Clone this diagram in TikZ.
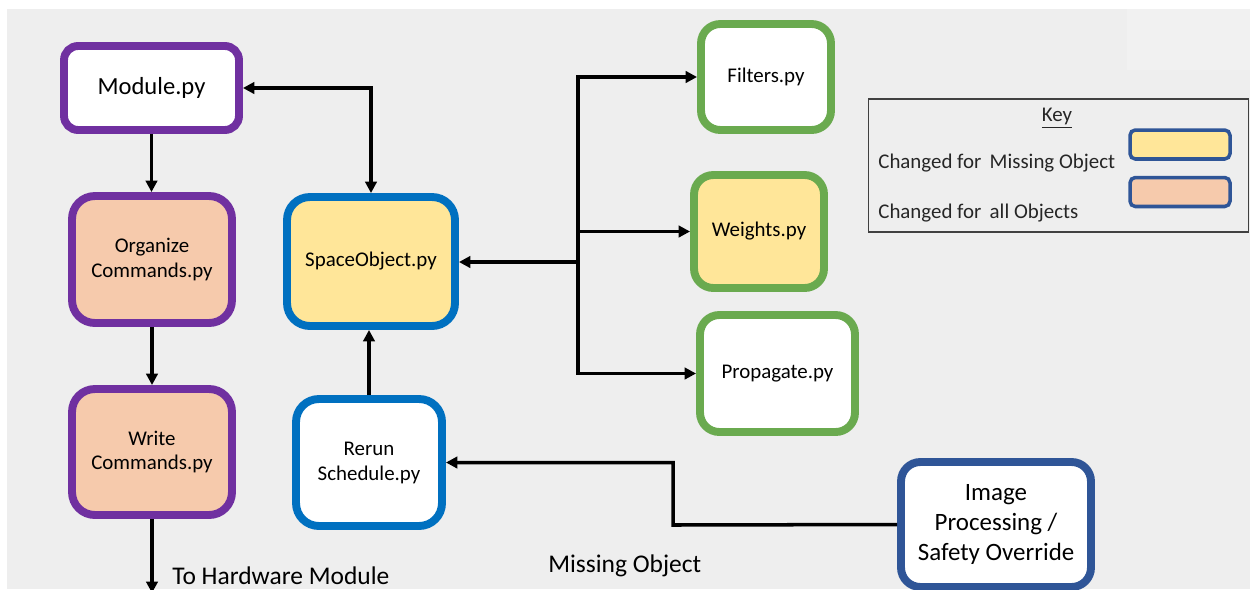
\documentclass[tikz,border=0pt]{standalone}
\usepackage{fontspec}
\setmainfont{Carlito}
\usetikzlibrary{arrows.meta}

\definecolor{pageGrey}{HTML}{EEEEEE}
\definecolor{pageLight}{HTML}{F1F1F1}
\definecolor{modPurple}{HTML}{7030A0}
\definecolor{objBlue}{HTML}{0070C0}
\definecolor{subGreen}{HTML}{6AAA4F}
\definecolor{extNavy}{HTML}{2F5597}
\definecolor{missYellow}{HTML}{FFE699}
\definecolor{allPeach}{HTML}{F6CAAC}

\begin{document}
\begin{tikzpicture}[x=0.02cm,y=-0.02cm,
  box/.style={rectangle, rounded corners=11pt, line width=4.5pt, align=center,
    inner sep=0pt, fill=white, text=black,
    font=\fontsize{11.9}{14.2}\selectfont},
  modbox/.style={box, draw=modPurple},
  objbox/.style={box, draw=objBlue},
  subbox/.style={box, draw=subGreen},
  extbox/.style={box, draw=extNavy},
  swatch/.style={rectangle, rounded corners=3pt, draw=extNavy, line width=2pt,
    minimum width=2.0cm, minimum height=0.58cm, inner sep=0pt},
  conn/.style={line width=2pt, -{Triangle[length=6.5pt,width=6.5pt]}},
  biconn/.style={line width=2pt, {Triangle[length=6.5pt,width=6.5pt]}-{Triangle[length=6.5pt,width=6.5pt]}},
  lbl/.style={text=black, inner sep=0pt, font=\fontsize{14.5}{17}\selectfont},
  keytxt/.style={text=black!85, inner sep=0pt, font=\fontsize{11.9}{14}\selectfont}
]
\useasboundingbox (0,0) rectangle (1250,589);
\clip (0,0) rectangle (1250,589);

% page background
\fill[white] (0,0) rectangle (1250,589);
\fill[pageGrey] (7,9) rectangle (1250,589);
\fill[pageLight] (1127,9) rectangle (1250,70);

% command chain
\node[modbox, rounded corners=8pt, minimum width=3.5cm, minimum height=1.68cm,
  font=\fontsize{14}{16}\selectfont] (module) at (151.5,88) {Module.py};
\node[modbox, fill=allPeach, rounded corners=13pt, minimum width=3.2cm, minimum height=2.54cm]
  (organize) at (152,259.5) {Organize\\Commands.py};
\node[modbox, fill=allPeach, rounded corners=13pt, minimum width=3.2cm, minimum height=2.52cm]
  (write) at (152,452) {Write\\Commands.py};

% space object and scheduler
\node[objbox, fill=missYellow, rounded corners=13pt, minimum width=3.36cm, minimum height=2.58cm]
  (spaceobj) at (371,261.5) {SpaceObject.py};
\node[objbox, rounded corners=13pt, minimum width=2.92cm, minimum height=2.54cm]
  (rerun) at (369,462.5) {Rerun\\Schedule.py};

% estimator modules
\node[subbox, minimum width=2.6cm, minimum height=2.12cm] (filters) at (766,77) {Filters.py};
\node[subbox, fill=missYellow, minimum width=2.6cm, minimum height=2.26cm] (weights) at (759,231.5) {Weights.py};
\node[subbox, minimum width=3.1cm, minimum height=2.34cm] (propagate) at (777.5,373.5) {Propagate.py};

% external trigger
\node[extbox, minimum width=3.8cm, minimum height=2.5cm,
  font=\fontsize{14.2}{17}\selectfont] (image) at (996,524.5)
  {Image\\Processing /\\Safety Override};

% key
\node[draw=black!75, line width=0.8pt, fill=pageGrey, minimum width=7.6cm, minimum height=2.66cm,
  inner sep=0pt] (keyframe) at (1058.5,165.5) {};
\node[keytxt] (keytitle) at (1057,118) {\underline{Key}};
\node[keytxt, anchor=west] (keymiss) at (878,163) {Changed for\, Missing Object};
\node[keytxt, anchor=west] (keyall) at (878,213) {Changed for\, all Objects};
\node[swatch, fill=missYellow] (swmiss) at (1180,144.5) {};
\node[swatch, fill=allPeach] (swall) at (1180,192) {};

% connectors
\coordinate (hub) at (578,262);
\coordinate (hw) at (152,593);
\coordinate (bend) at (673,525);

\draw[conn] (module.south) -- (module.south |- organize.north);
\draw[conn] (organize.south) -- (write.north);
\draw[conn] (write.south) -- (hw);
\draw[biconn] (module.east) -| (spaceobj.north);
\draw[conn] (rerun.north) -- (rerun.north |- spaceobj.south);
\draw[conn] (hub) -- (hub -| spaceobj.east);
\draw[conn] (hub) |- (filters.west);
\draw[conn] (hub) |- (weights.west);
\draw[conn] (hub) |- (propagate.west);
\draw[conn] (image.west) -- (bend) |- (rerun.east);

% free labels
\node[lbl, anchor=west] (hwlabel) at (172,576) {To Hardware Module};
\node[lbl, anchor=west] (misslabel) at (548,566) {Missing Object};
\end{tikzpicture}
\end{document}
